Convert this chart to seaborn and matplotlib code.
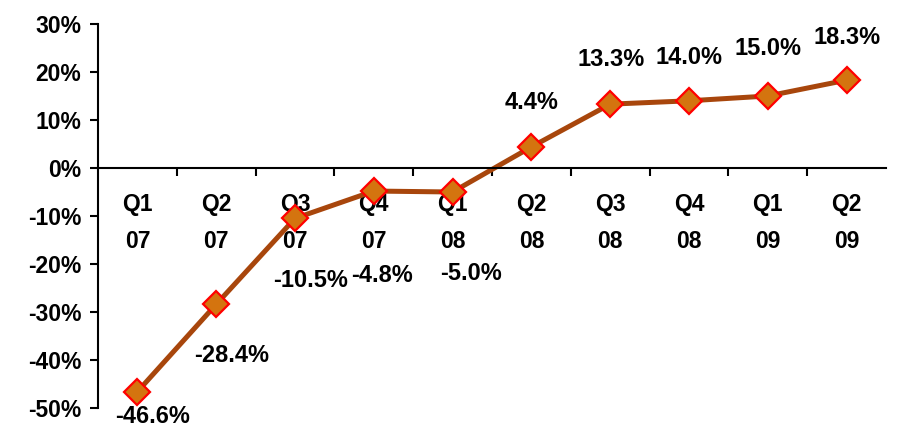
import matplotlib
matplotlib.use("Agg")
import matplotlib.pyplot as plt
import seaborn as sns
import pandas as pd
from matplotlib.ticker import FixedLocator, PercentFormatter

quarters = ["Q1\n07", "Q2\n07", "Q3\n07", "Q4\n07", "Q1\n08",
            "Q2\n08", "Q3\n08", "Q4\n08", "Q1\n09", "Q2\n09"]
growth = [-46.6, -28.4, -10.5, -4.8, -5.0, 4.4, 13.3, 14.0, 15.0, 18.3]
value_labels = ["-46.6%", "-28.4%", "-10.5%", "-4.8%", "-5.0%",
                "4.4%", "13.3%", "14.0%", "15.0%", "18.3%"]
# label offsets in points (dx, dy)
label_offsets = [(11, -18), (11, -37), (11, -45), (6, -61), (13, -59),
                 (0, 32), (1, 32), (0, 31), (0, 34), (0, 31)]

sns.set_style("white")
plt.rcParams['font.family'] = ['Liberation Sans', 'DejaVu Sans']
plt.rcParams['font.weight'] = 'bold'
plt.rcParams['axes.unicode_minus'] = False
plt.rcParams['text.color'] = 'black'
plt.rcParams['xtick.color'] = 'black'
plt.rcParams['ytick.color'] = 'black'

FS_VAL = 17
FS_TICK = 16.5

df = pd.DataFrame({"x": range(len(quarters)), "y": growth})

fig = plt.figure(figsize=(8.99, 4.28), dpi=100)
ax = fig.add_axes([98/899, 20/428, (886-98)/899, (406-22)/428])

sns.lineplot(data=df, x="x", y="y", ax=ax, color="#A8460C", linewidth=3.6,
             marker="D", markersize=13.5, markerfacecolor="#D4740F",
             markeredgecolor="#FF0000", markeredgewidth=1.6)

for i, (v, lab, off) in enumerate(zip(growth, value_labels, label_offsets)):
    ax.annotate(lab, (i, v), xytext=off, textcoords="offset points",
                ha="center", va="center", fontsize=FS_VAL, fontweight="bold",
                color="black")

ax.spines["top"].set_visible(False)
ax.spines["right"].set_visible(False)
ax.spines["bottom"].set_position(("data", 0))
for s in ("left", "bottom"):
    ax.spines[s].set_color("black")
    ax.spines[s].set_linewidth(1.5)

ax.set_xlim(-0.5, len(quarters) - 0.5)
ax.set_ylim(-50, 30)
ax.set_yticks(range(-50, 31, 10))
ax.yaxis.set_major_formatter(PercentFormatter(decimals=0))
ax.xaxis.set_minor_locator(FixedLocator([i + 0.5 for i in range(len(quarters) - 1)]))
ax.tick_params(axis="x", which="major", bottom=True, length=0, pad=18,
               labelsize=FS_TICK, labelcolor="black")
ax.tick_params(axis="x", which="minor", bottom=True, length=6, width=1.5,
               direction="out", color="black")
ax.tick_params(axis="y", left=True, length=6, width=1.5, direction="out",
               color="black", labelsize=FS_TICK, labelcolor="black", pad=6)
ax.set_xticks(range(len(quarters)))
ax.set_xticklabels(quarters, fontweight="bold", fontsize=FS_TICK, linespacing=1.75)

ax.set_xlabel("")
ax.set_ylabel("")
ax.set_facecolor("white")

fig.savefig("out.png", dpi=100, facecolor="white")
